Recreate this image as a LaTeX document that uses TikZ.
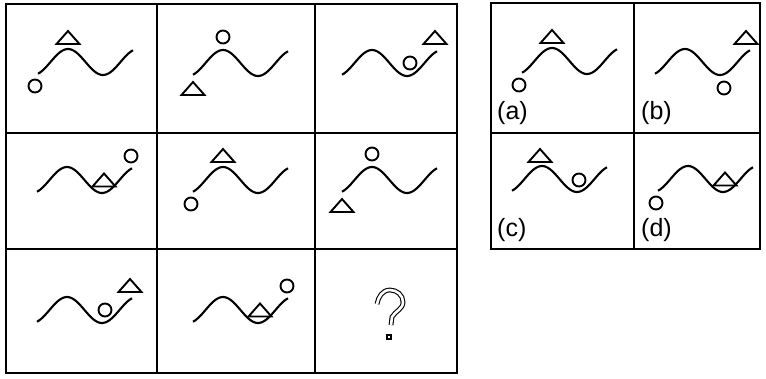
\documentclass[tikz,border=0pt]{standalone}
\usepackage{fontspec}
\setmainfont{Liberation Sans}
\tikzset{
  gridline/.style={line width=1.4pt},
  wave/.style={line width=2.1pt},
  shp/.style={line width=1.9pt},
  lbl/.style={font=\fontsize{25}{25}\selectfont, anchor=west, inner sep=0pt},
}
% wave with peak at (#1,#2)
\newcommand\wv[2]{\draw[wave] plot[domain=-30:65, samples=60, smooth] ({#1+\x},{#2+13*(1-cos(\x*5.142857))});}
% triangle: centre x, base y
\newcommand\tri[2]{\draw[shp, line join=miter] ({#1-11.5},#2) -- (#1,{#2-13}) -- ({#1+11.5},#2) -- cycle;}
% circle: centre
\newcommand\cir[2]{\draw[shp] (#1,#2) circle[radius=6.5pt];}
\begin{document}
\begin{tikzpicture}[x=1pt,y=-1pt]
\useasboundingbox (0,0) rectangle (766,378);
% left grid
\draw[gridline] (6,4) rectangle (457,373);
\draw[line width=2.2pt] (6,4) -- (457,4);
\draw[gridline] (157,4) -- (157,373) (315,4) -- (315,373)
                (6,133) -- (457,133) (6,249) -- (457,249);
% right grid
\draw[gridline] (491,3) rectangle (760,249);
\draw[gridline] (634,3) -- (634,249) (491,133) -- (760,133);
% cell 1
\wv{68}{49} \tri{68}{44} \cir{35}{86}
% cell 2
\wv{223}{50} \cir{223}{37} \tri{193}{95}
% cell 3
\wv{372}{50} \cir{410}{63} \tri{435}{44}
% cell 4
\wv{67}{167} \cir{131}{156} \tri{104}{186.5}
% cell 5
\wv{223}{167} \tri{223}{162} \cir{191}{204}
% cell 6
\wv{372}{167} \cir{372}{154} \tri{342}{212}
% cell 7
\wv{67}{297} \cir{105}{310} \tri{130}{292}
% cell 8
\wv{223}{297} \cir{287}{286} \tri{260}{316.5}
% question mark
\draw[line width=1.1pt, double=white, double distance=2.6pt]
  (377,304) to[out=80,in=180] (390,290) to[out=0,in=90] (403,302)
  to[out=-90,in=60] (392,317) -- (391,325);
\draw[line width=1.1pt] (387,335) rectangle (391,339);
% answers
\wv{552}{48} \tri{552}{43} \cir{519}{85}
\wv{685}{49} \tri{746}{44} \cir{724}{88}
\wv{542}{166} \tri{540}{162} \cir{579}{180}
\wv{688}{166} \cir{656}{203} \tri{725}{185.5}
\node[lbl] (la) at (497,113) {(a)};
\node[lbl] (lb) at (641,113) {(b)};
\node[lbl] (lc) at (497,230) {(c)};
\node[lbl] (ld) at (641,230) {(d)};
\end{tikzpicture}
\end{document}
